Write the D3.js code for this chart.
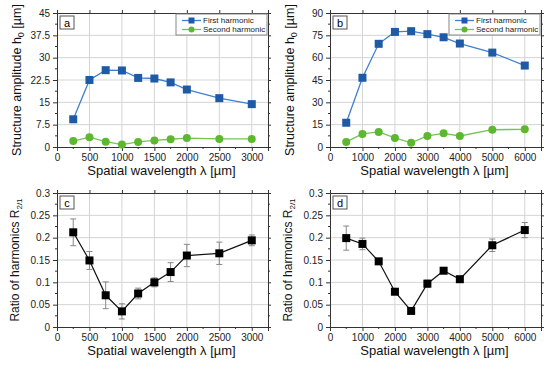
<!DOCTYPE html>
<html>
<head>
<meta charset="utf-8">
<script src="https://d3js.org/d3.v7.min.js"></script>
<style>
  body { margin: 0; background: #fff; }
  text { font-family: "Liberation Sans", Arial, sans-serif; }
</style>
</head>
<body>
<div id="chart"></div>
<script>
// panel a / c wavelengths
var lambdaA = [250, 500, 750, 1000, 1250, 1500, 1750, 2000, 2500, 3000];
var firstA  = [9.3, 22.5, 25.8, 25.7, 23.2, 23.0, 21.7, 19.3, 16.4, 14.4];
var secondA = [2.0, 3.3, 1.8, 0.8, 1.7, 2.2, 2.6, 3.0, 2.7, 2.7];
// panel b / d wavelengths
var lambdaB = [500, 1000, 1500, 2000, 2500, 3000, 3500, 4000, 5000, 6000];
var firstB  = [16.3, 46.5, 69.3, 77.3, 77.8, 75.8, 73.7, 69.5, 63.4, 54.7];
var secondB = [3.4, 8.8, 10.1, 6.1, 2.8, 7.4, 9.2, 7.4, 11.6, 11.9];
// ratios with error
var ratioC = [0.212, 0.149, 0.071, 0.035, 0.075, 0.100, 0.123, 0.160, 0.165, 0.194];
var errC   = [0.030, 0.020, 0.030, 0.017, 0.012, 0.010, 0.021, 0.025, 0.025, 0.012];
var ratioD = [0.199, 0.186, 0.147, 0.079, 0.036, 0.097, 0.126, 0.107, 0.183, 0.217];
var errD   = [0.027, 0.013, 0.005, 0.006, 0.004, 0.008, 0.005, 0.004, 0.014, 0.017];

var ticksXA = [0, 500, 1000, 1500, 2000, 2500, 3000];
var ticksXB = [0, 1000, 2000, 3000, 4000, 5000, 6000];
var ticksYA = [0, 7.5, 15, 22.5, 30, 37.5, 45];
var ticksYB = [0, 15, 30, 45, 60, 75, 90];
var ticksR  = [0, 0.05, 0.1, 0.15, 0.2, 0.25, 0.3];

var blue = "#1f5aa6", blueLine = "#3f80d0";
var green = "#5cb82e", greenLine = "#74c552";

var svg = d3.select("#chart").append("svg")
    .attr("width", 550).attr("height", 365);

var panels = [
  { tag: "a", left: 57, top: 13, xmax: 3250, ymax: 45, xt: ticksXA, yt: ticksYA, xs: lambdaA, s1: firstA, s2: secondA, kind: "amp" },
  { tag: "b", left: 330, top: 13, xmax: 6500, ymax: 90, xt: ticksXB, yt: ticksYB, xs: lambdaB, s1: firstB, s2: secondB, kind: "amp" },
  { tag: "c", left: 57, top: 193, xmax: 3250, ymax: 0.3, xt: ticksXA, yt: ticksR, xs: lambdaA, r: ratioC, e: errC, kind: "ratio" },
  { tag: "d", left: 330, top: 193, xmax: 6500, ymax: 0.3, xt: ticksXB, yt: ticksR, xs: lambdaB, r: ratioD, e: errD, kind: "ratio" }
];

var pw = 211, ph = 134;

panels.forEach(function(p) {
  var g = svg.append("g").attr("transform", "translate(" + p.left + "," + p.top + ")");
  var x = d3.scaleLinear().domain([0, p.xmax]).range([0, pw]);
  var y = d3.scaleLinear().domain([0, p.ymax]).range([ph, 0]);

  // grid
  g.selectAll(".gx").data(p.xt.slice(1)).enter().append("line")
    .attr("x1", d => x(d)).attr("x2", d => x(d)).attr("y1", 0).attr("y2", ph)
    .attr("stroke", "#d4d4d4").attr("stroke-width", 1);
  g.selectAll(".gy").data(p.yt.slice(1, -1)).enter().append("line")
    .attr("y1", d => y(d)).attr("y2", d => y(d)).attr("x1", 0).attr("x2", pw)
    .attr("stroke", "#d4d4d4").attr("stroke-width", 1);

  var xStep = p.xt[1] - p.xt[0], yStep = p.yt[1] - p.yt[0];
  var xMinor = d3.range(xStep / 2, p.xmax, xStep).filter(v => p.xt.indexOf(v) < 0);
  var yMinor = d3.range(yStep / 2, p.ymax, yStep);

  // axes
  var bottom = d3.axisBottom(x).tickValues(p.xt).tickSize(4).tickPadding(3)
    .tickFormat(d3.format("d"));
  var left = d3.axisLeft(y).tickValues(p.yt).tickSize(4).tickPadding(3)
    .tickFormat(d => String(+d.toFixed(3)));
  g.append("g").attr("transform", "translate(0," + ph + ")").call(bottom);
  g.append("g").call(left);
  g.append("g").call(d3.axisTop(x).tickValues(p.xt).tickSize(3).tickFormat(""));
  g.append("g").attr("transform", "translate(" + pw + ",0)")
    .call(d3.axisRight(y).tickValues(p.yt).tickSize(3).tickFormat(""));

  // minor ticks
  g.selectAll(".mxb").data(xMinor).enter().append("line")
    .attr("x1", d => x(d)).attr("x2", d => x(d)).attr("y1", ph).attr("y2", ph + 2).attr("stroke", "#333");
  g.selectAll(".myl").data(yMinor).enter().append("line")
    .attr("y1", d => y(d)).attr("y2", d => y(d)).attr("x1", 0).attr("x2", -2).attr("stroke", "#333");
  g.selectAll(".myr").data(yMinor).enter().append("line")
    .attr("y1", d => y(d)).attr("y2", d => y(d)).attr("x1", pw).attr("x2", pw + 2).attr("stroke", "#333");

  g.selectAll(".domain").attr("stroke", "#333");
  g.selectAll(".tick line").attr("stroke", "#333");
  g.selectAll(".tick text").attr("fill", "#222").style("font-size", "10px")
    .style("font-family", "Liberation Sans, Arial, sans-serif");

  // panel tag
  g.append("rect").attr("x", 3).attr("y", 3).attr("width", 14).attr("height", 13)
    .attr("fill", "#fff").attr("stroke", "#555");
  g.append("text").attr("x", 10).attr("y", 13.5).attr("text-anchor", "middle")
    .style("font-size", "11px").text(p.tag);

  // x title
  g.append("text").attr("x", pw / 2 - 1).attr("y", ph + 28).attr("text-anchor", "middle")
    .style("font-size", "13px").attr("fill", "#111").text("Spatial wavelength λ [µm]");

  var line = d3.line().x(d => x(d[0])).y(d => y(d[1]));

  if (p.kind === "amp") {
    var yt = g.append("text").attr("transform", "translate(-36," + (ph / 2) + ") rotate(-90)")
      .attr("text-anchor", "middle").style("font-size", "12.5px").attr("fill", "#111");
    yt.append("tspan").text("Structure amplitude h");
    yt.append("tspan").attr("dy", 3).style("font-size", "9px").text("0");
    yt.append("tspan").attr("dy", -3).text(" [µm]");

    var d1 = p.xs.map((v, i) => [v, p.s1[i]]);
    var d2 = p.xs.map((v, i) => [v, p.s2[i]]);
    g.append("path").datum(d1).attr("d", line).attr("fill", "none").attr("stroke", blueLine).attr("stroke-width", 1.3);
    g.append("path").datum(d2).attr("d", line).attr("fill", "none").attr("stroke", greenLine).attr("stroke-width", 1.3);
    g.selectAll(".sq").data(d1).enter().append("rect")
      .attr("x", d => x(d[0]) - 4).attr("y", d => y(d[1]) - 4).attr("width", 8).attr("height", 8)
      .attr("fill", blue);
    g.selectAll(".ci").data(d2).enter().append("circle")
      .attr("cx", d => x(d[0])).attr("cy", d => y(d[1])).attr("r", 4).attr("fill", green);

    // legend
    var lg = g.append("g").attr("transform", "translate(" + (pw - 92) + ",1)");
    lg.append("rect").attr("width", 91).attr("height", 21).attr("fill", "#fff").attr("stroke", "#888");
    lg.append("line").attr("x1", 6).attr("x2", 25).attr("y1", 6.5).attr("y2", 6.5).attr("stroke", blueLine).attr("stroke-width", 1.3);
    lg.append("rect").attr("x", 12.5).attr("y", 3.5).attr("width", 6).attr("height", 6).attr("fill", blue);
    lg.append("text").attr("x", 27).attr("y", 9.3).style("font-size", "8px").attr("fill", "#222").text("First harmonic");
    lg.append("line").attr("x1", 6).attr("x2", 25).attr("y1", 15.5).attr("y2", 15.5).attr("stroke", greenLine).attr("stroke-width", 1.3);
    lg.append("circle").attr("cx", 15.5).attr("cy", 15.5).attr("r", 3).attr("fill", green);
    lg.append("text").attr("x", 27).attr("y", 18.3).style("font-size", "8px").attr("fill", "#222").text("Second harmonic");
  } else {
    var yr = g.append("text").attr("transform", "translate(-38," + (ph / 2) + ") rotate(-90)")
      .attr("text-anchor", "middle").style("font-size", "12px").attr("fill", "#111");
    yr.append("tspan").text("Ratio of harmonics R");
    yr.append("tspan").attr("dy", 3).style("font-size", "8px").text("2/1");

    var dr = p.xs.map((v, i) => [v, p.r[i], p.e[i]]);
    var eb = g.selectAll(".eb").data(dr).enter().append("g").attr("stroke", "#888").attr("stroke-width", 1);
    eb.append("line").attr("x1", d => x(d[0])).attr("x2", d => x(d[0]))
      .attr("y1", d => y(d[1] - d[2])).attr("y2", d => y(d[1] + d[2]));
    eb.append("line").attr("x1", d => x(d[0]) - 3).attr("x2", d => x(d[0]) + 3)
      .attr("y1", d => y(d[1] - d[2])).attr("y2", d => y(d[1] - d[2]));
    eb.append("line").attr("x1", d => x(d[0]) - 3).attr("x2", d => x(d[0]) + 3)
      .attr("y1", d => y(d[1] + d[2])).attr("y2", d => y(d[1] + d[2]));
    g.append("path").datum(dr).attr("d", line).attr("fill", "none").attr("stroke", "#111").attr("stroke-width", 1.2);
    g.selectAll(".sq").data(dr).enter().append("rect")
      .attr("x", d => x(d[0]) - 4).attr("y", d => y(d[1]) - 4).attr("width", 8).attr("height", 8)
      .attr("fill", "#000");
  }
});
</script>
</body>
</html>
